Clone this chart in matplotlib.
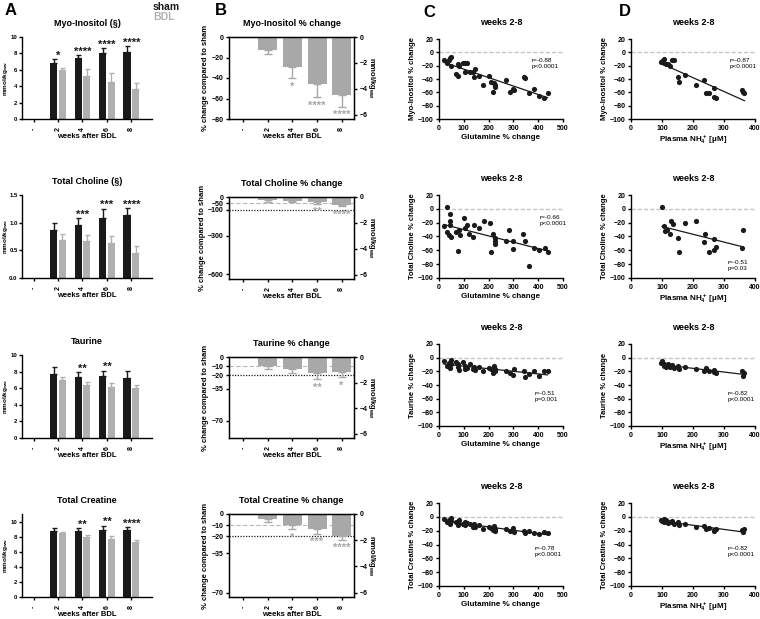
import numpy as np
import matplotlib
matplotlib.use('Agg')
import matplotlib.pyplot as plt

plt.rcParams['font.family'] = ['Liberation Sans', 'DejaVu Sans']
plt.rcParams['font.weight'] = 'bold'
plt.rcParams['axes.labelweight'] = 'bold'
plt.rcParams['mathtext.default'] = 'regular'

# ---------------- data ----------------
cat_labels = ['-', '2', '4', '6', '8']

# Panel A (mmol/kg ww)
myo_sham = [6.8, 7.4, 8.1, 8.2]
myo_sham_err = [0.5, 0.4, 0.5, 0.7]
myo_bdl = [6.0, 5.3, 4.5, 3.6]
myo_bdl_err = [0.2, 0.8, 1.1, 0.8]
myo_stars = ['*', '****', '****', '****']

cho_sham = [0.86, 0.95, 1.08, 1.13]
cho_sham_err = [0.13, 0.13, 0.17, 0.13]
cho_bdl = [0.68, 0.67, 0.64, 0.45]
cho_bdl_err = [0.12, 0.10, 0.12, 0.12]
cho_stars = ['', '***', '***', '****']

tau_sham = [7.7, 7.3, 7.5, 7.2]
tau_sham_err = [0.8, 0.6, 0.6, 0.9]
tau_bdl = [7.0, 6.4, 6.1, 6.0]
tau_bdl_err = [0.3, 0.4, 0.5, 0.4]
tau_stars = ['', '**', '**', '']

cre_sham = [8.8, 8.8, 9.0, 9.0]
cre_sham_err = [0.4, 0.4, 0.5, 0.3]
cre_bdl = [8.5, 8.0, 7.8, 7.3]
cre_bdl_err = [0.2, 0.3, 0.4, 0.3]
cre_stars = ['', '**', '**', '****']

# Panel B (% change compared to sham)
myo_pct = [-13, -29, -46, -57]
myo_pct_err = [3.5, 11, 13, 11]
myo_pct_stars = ['', '*', '****', '****']

cho_pct = [-21, -30, -41, -60]
cho_pct_err = [14, 10, 12, 12]
cho_pct_stars = ['', '', '**', '****']

tau_pct = [-9.4, -12.7, -17.4, -17.0]
tau_pct_err = [3.3, 5.3, 7.3, 5.5]
tau_pct_stars = ['', '', '**', '*']

cre_pct = [-4.5, -9.6, -13.2, -19.5]
cre_pct_err = [2.7, 3.9, 4.5, 3.5]
cre_pct_stars = ['', '*', '***', '****']

# Panel C (x: glutamine % change)
glu_myo = [20, 31, 42, 45, 49, 50, 69, 75, 78, 82, 98, 105, 105, 112, 123, 139, 141, 146, 162,
           179, 202, 209, 217, 220, 224, 226, 271, 287, 298, 303, 341, 348, 364, 384, 402, 424, 438]
myo_chg = [-11, -16, -12, -9, -7, -21, -32, -36, -17, -21, -16, -16, -30, -16, -30, -30, -37, -25, -35,
           -49, -35, -44, -60, -46, -49, -52, -41, -60, -55, -57, -37, -39, -61, -55, -66, -68, -61]

glu_cho = [19, 33, 34, 39, 45, 45, 45, 49, 67, 75, 80, 86, 99, 106, 113, 121, 136, 143, 162,
           181, 204, 211, 216, 224, 226, 226, 272, 283, 300, 300, 340, 348, 364, 384, 402, 428, 439]
cho_chg = [-25, 2, -34, -38, -7, -17, -23, -41, -34, -61, -31, -38, -13, -28, -24, -36, -41, -23, -28,
           -18, -20, -63, -37, -42, -46, -51, -47, -30, -58, -46, -36, -47, -82, -56, -59, -56, -63]

glu_tau = [20, 31, 42, 45, 49, 50, 69, 75, 78, 82, 98, 105, 105, 112, 123, 139, 141, 146, 162,
           179, 202, 209, 217, 220, 224, 226, 271, 287, 298, 303, 341, 348, 364, 384, 402, 424, 438]
tau_chg = [-5, -12, -8, -15, -10, -4, -6, -14, -9, -18, -7, -12, -16, -15, -10, -16, -13, -18, -13,
           -20, -15, -17, -22, -12, -19, -16, -20, -22, -26, -17, -19, -28, -24, -20, -27, -19, -20]

glu_cre = [20, 31, 42, 45, 49, 50, 69, 75, 78, 82, 98, 105, 105, 112, 123, 139, 141, 146, 162,
           179, 202, 209, 217, 220, 224, 226, 271, 287, 298, 303, 341, 348, 364, 384, 402, 424, 438]
cre_chg = [-3, -8, -5, -10, -6, -2, -7, -12, -9, -5, -10, -8, -12, -9, -11, -14, -10, -15, -12,
           -17, -14, -16, -19, -13, -17, -20, -18, -20, -16, -22, -20, -24, -21, -23, -25, -22, -24]

# Panel D (x: plasma NH4+ uM)
nh4_myo = [98, 101, 105, 107, 114, 118, 127, 132, 139, 150, 156, 173, 210, 236, 241, 250, 267, 269, 273, 357, 362, 366]
myo_nh4 = [-15, -13, -10, -16, -17, -17, -21, -12, -11, -37, -45, -34, -49, -41, -61, -61, -54, -67, -69, -56, -59, -61]

nh4_cho = [100, 107, 109, 116, 127, 130, 137, 151, 156, 173, 210, 234, 238, 250, 267, 269, 273, 357, 362]
cho_nh4 = [2, -25, -32, -31, -37, -17, -22, -42, -62, -20, -18, -48, -37, -63, -43, -59, -55, -56, -30]

nh4_tau = [98, 101, 105, 107, 114, 118, 127, 132, 139, 150, 156, 173, 210, 236, 241, 250, 267, 269, 273, 357, 362, 366]
tau_nh4 = [-8, -5, -12, -10, -14, -9, -13, -11, -15, -12, -16, -14, -17, -20, -15, -19, -21, -18, -22, -20, -27, -23]

nh4_cre = [98, 101, 105, 107, 114, 118, 127, 132, 139, 150, 156, 173, 210, 236, 241, 250, 267, 269, 273, 357, 362, 366]
cre_nh4 = [-4, -6, -3, -7, -5, -9, -8, -6, -10, -8, -12, -11, -14, -13, -17, -16, -19, -21, -18, -19, -22, -17]

stats_C = ['r=-0.88\np<0.0001', 'r=-0.66\np<0.0001', 'r=-0.51\np=0.001', 'r=-0.78\np<0.0001']
stats_D = ['r=-0.87\np<0.0001', 'r=-0.51\np=0.03', 'r=-0.82\np<0.0001', 'r=-0.82\np<0.0001']

# ---------------- figure ----------------
W, H = 760, 619
fig = plt.figure(figsize=(W / 100, H / 100), dpi=100)

BLACK = '#1a1a1a'
GREY = '#b0b0b0'
GREY_B = '#a8a8a8'
TICK_FS = 5.0
LAB_FS = 5.5
TITLE_FS = 6.5


def ax_px(l, t, r, b):
    return fig.add_axes([l / W, 1 - b / H, (r - l) / W, (b - t) / H])


def style(ax):
    for s in ['top', 'right']:
        ax.spines[s].set_visible(False)
    for s in ax.spines.values():
        s.set_linewidth(1.0)
    ax.tick_params(direction='out', length=2.5, width=1.0, labelsize=TICK_FS, pad=1.5)


def panel_A(rect, title, sham, sham_err, bdl, bdl_err, stars, ylim, yticks, yticklabels):
    ax = ax_px(*rect)
    pos = np.arange(1, 5)
    off, w = 0.18, 0.29
    z = np.zeros(4)
    ax.bar(pos - off, sham, w, color=BLACK, zorder=2)
    ax.errorbar(pos - off, sham, yerr=[z, sham_err], fmt='none', ecolor=BLACK, elinewidth=1, capsize=1.8, capthick=1, zorder=2)
    ax.bar(pos + off, bdl, w, color=GREY, zorder=2)
    ax.errorbar(pos + off, bdl, yerr=[z, bdl_err], fmt='none', ecolor=GREY, elinewidth=1, capsize=1.8, capthick=1, zorder=2)
    tops = np.maximum(np.array(sham) + np.array(sham_err), np.array(bdl) + np.array(bdl_err))
    for p, t, s in zip(pos, tops, stars):
        if s:
            ax.annotate(s, (p, t), xytext=(0, -1.0), textcoords='offset points', ha='center', va='bottom',
                        fontsize=8, color=BLACK)
    ax.set_xlim(-0.47, 4.84)
    ax.set_ylim(*ylim)
    ax.set_yticks(yticks)
    ax.set_yticklabels(yticklabels)
    ax.set_xticks(range(5))
    ax.set_xticklabels(cat_labels, rotation=90)
    style(ax)
    ax.tick_params(axis='y', labelsize=4.3, pad=1.0, length=2.2)
    ax.tick_params(axis='x', pad=3.5)
    ax.set_title(title, fontsize=TITLE_FS, fontweight='bold', pad=8)
    ax.set_xlabel('weeks after BDL', fontsize=LAB_FS, labelpad=1)
    ax.set_ylabel('mmol/kg$_{ww}$', fontsize=4.6)
    ax.yaxis.set_label_coords(-0.093, 0.5)
    return ax


def panel_B(rect, title, vals, errs, stars, ylim, yticks, refs):
    ax = ax_px(*rect)
    pos = np.arange(1, 5)
    z = np.zeros(4)
    ax.bar(pos, vals, 0.77, color=GREY_B, zorder=2)
    ax.errorbar(pos, vals, yerr=[errs, z], fmt='none', ecolor=GREY_B, elinewidth=1, capsize=3, capthick=1, zorder=2)
    ends = np.array(vals) - np.array(errs)
    for p, e, s in zip(pos, ends, stars):
        if s:
            ax.annotate(s, (p, e), xytext=(0, -2.5), textcoords='offset points', ha='center', va='top',
                        fontsize=8, color=GREY_B)
    if refs:
        ax.axhline(refs[0], color='#b8b8b8', lw=0.8, ls=(0, (4, 2)), zorder=1)
        ax.axhline(refs[1], color=BLACK, lw=0.9, ls=(0, (1, 1.2)), zorder=1)
    ax.set_xlim(-0.57, 4.5)
    ax.set_ylim(ylim, 0)
    ax.set_yticks(yticks)
    ax.set_xticks(range(5))
    ax.set_xticklabels(cat_labels, rotation=90)
    for s in ax.spines.values():
        s.set_linewidth(1.0)
    ax.tick_params(direction='out', length=2.5, width=1.0, labelsize=TICK_FS, pad=1.5)
    ax.tick_params(axis='x', pad=3.5)
    ax.set_title(title, fontsize=TITLE_FS, fontweight='bold', pad=8)
    ax.set_xlabel('weeks after BDL', fontsize=LAB_FS, labelpad=1)
    ax.set_ylabel('% change compared to sham', fontsize=LAB_FS, labelpad=1.5)
    ax2 = ax.twinx()
    ax2.set_ylim(-6.33, 0)
    ax2.set_yticks([0, -2, -4, -6])
    ax2.tick_params(direction='out', length=2.5, width=1.0, labelsize=TICK_FS, pad=1.5)
    ax2.set_ylabel('mmol/kg$_{ww}$', fontsize=LAB_FS, rotation=270, labelpad=7)
    return ax


def panel_S(rect, xs, ys, ylabel, xlabel, xmax, xstep, stat, stat_xy):
    ax = ax_px(*rect)
    ax.axhline(0, color='#c4c4c4', lw=1.0, ls=(0, (3, 1.5)), zorder=1)
    ax.scatter(xs, ys, s=14, color=BLACK, linewidths=0, zorder=3)
    k, b = np.polyfit(xs, ys, 1)
    xx = np.array([min(xs), max(xs)])
    ax.plot(xx, k * xx + b, color=BLACK, lw=0.9, zorder=2)
    ax.set_xlim(0, xmax)
    ax.set_ylim(-100, 20)
    ax.set_xticks(np.arange(0, xmax + 1, xstep))
    ax.set_yticks(np.arange(-100, 21, 20))
    style(ax)
    ax.text(stat_xy[0], stat_xy[1], stat, fontsize=4.6, fontweight='normal', va='center', ha='left',
            linespacing=1.1)
    ax.set_title('weeks 2-8', fontsize=TITLE_FS, fontweight='bold', pad=10)
    ax.set_xlabel(xlabel, fontsize=LAB_FS + 0.3, labelpad=1.5)
    ax.set_ylabel(ylabel, fontsize=LAB_FS, labelpad=1)
    return ax


A_rows = [(37, 119), (195, 278), (355, 438), (514, 597)]
B_rows = [(37, 119), (197, 279), (357, 438), (514, 597)]
C_rows = [(39, 119), (195, 278), (344, 426), (503, 586)]

panel_A((22, A_rows[0][0], 152, A_rows[0][1]), 'Myo-Inositol (§)', myo_sham, myo_sham_err, myo_bdl, myo_bdl_err,
        myo_stars, (0, 10), [0, 2, 4, 6, 8, 10], ['0', '2', '4', '6', '8', '10'])
panel_A((22, A_rows[1][0], 152, A_rows[1][1]), 'Total Choline (§)', cho_sham, cho_sham_err, cho_bdl, cho_bdl_err,
        cho_stars, (0, 1.5), [0, 0.5, 1.0, 1.5], ['0.0', '0.5', '1.0', '1.5'])
panel_A((22, A_rows[2][0], 152, A_rows[2][1]), 'Taurine', tau_sham, tau_sham_err, tau_bdl, tau_bdl_err,
        tau_stars, (0, 10), [0, 2, 4, 6, 8, 10], ['0', '2', '4', '6', '8', '10'])
panel_A((22, A_rows[3][0], 152, A_rows[3][1]), 'Total Creatine', cre_sham, cre_sham_err, cre_bdl, cre_bdl_err,
        cre_stars, (0, 11.07), [0, 2, 4, 6, 8, 10], ['0', '2', '4', '6', '8', '10'])

panel_B((229, B_rows[0][0], 354, B_rows[0][1]), 'Myo-Inositol % change', myo_pct, myo_pct_err, myo_pct_stars,
        -80, [0, -20, -40, -60, -80], None)
panel_B((229, B_rows[1][0], 354, B_rows[1][1]), 'Total Choline % change', cho_pct, cho_pct_err, cho_pct_stars,
        -637, [0, -50, -100, -300, -600], (-50, -100))
panel_B((229, B_rows[2][0], 354, B_rows[2][1]), 'Taurine % change', tau_pct, tau_pct_err, tau_pct_stars,
        -89, [0, -10, -20, -35, -70], (-10, -20))
panel_B((229, B_rows[3][0], 354, B_rows[3][1]), 'Total Creatine % change', cre_pct, cre_pct_err, cre_pct_stars,
        -74, [0, -10, -20, -35, -70], (-10, -20))

C_data = [(glu_myo, myo_chg, 'Myo-Inositol % change', (374, -17)),
          (glu_cho, cho_chg, 'Total Choline % change', (407, -17)),
          (glu_tau, tau_chg, 'Taurine % change', (387, -57)),
          (glu_cre, cre_chg, 'Total Creatine % change', (387, -50))]
D_data = [(nh4_myo, myo_nh4, 'Myo-Inositol % change', (318, -17)),
          (nh4_cho, cho_nh4, 'Total Choline % change', (313, -82)),
          (nh4_tau, tau_nh4, 'Taurine % change', (313, -57)),
          (nh4_cre, cre_nh4, 'Total Creatine % change', (313, -50))]

for i in range(4):
    t, b = C_rows[i]
    xs, ys, yl, sxy = C_data[i]
    panel_S((439, t, 563, b), xs, ys, yl, 'Glutamine % change', 500, 100, stats_C[i], sxy)
    xs, ys, yl, sxy = D_data[i]
    panel_S((631, t, 755, b), xs, ys, yl, 'Plasma NH$_4^+$ [\u03bcM]', 400, 100, stats_D[i], sxy)

# panel letters and legend
for letter, x, yb in zip('ABCD', [5, 215, 423, 619], [15, 15, 17, 16]):
    fig.text(x / W, 1 - yb / H, letter, fontsize=12, fontweight='bold', ha='left', va='baseline')
fig.text(153 / W, 1 - 10.5 / H, 'sham', fontsize=7.5, fontweight='bold', color=BLACK, ha='left', va='baseline')
fig.text(153 / W, 1 - 19.5 / H, 'BDL', fontsize=7.5, fontweight='bold', color=GREY, ha='left', va='baseline')

fig.savefig('out.png', dpi=100)
